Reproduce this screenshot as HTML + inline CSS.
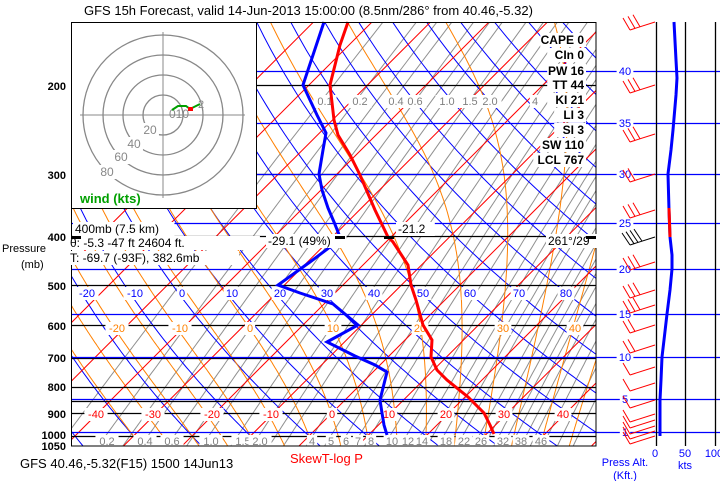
<!DOCTYPE html>
<html><head><meta charset="utf-8">
<style>
html,body{margin:0;padding:0;background:#fff;}
svg{display:block;font-family:"Liberation Sans",sans-serif;}
</style></head>
<body>
<svg id="s" width="720" height="481" viewBox="0 0 720 481" xmlns="http://www.w3.org/2000/svg">
<defs><clipPath id="cp"><rect x="71" y="22" width="525" height="424"/></clipPath></defs>
<rect width="720" height="481" fill="#fff"/>
<g id="grid" clip-path="url(#cp)"></g>
<g id="fg"></g>
</svg>
<script>
(function(){
var NS="http://www.w3.org/2000/svg";
var grid=document.getElementById('grid'), fg=document.getElementById('fg');
function el(p,tag,a,txt){var e=document.createElementNS(NS,tag);for(var k in a)e.setAttribute(k,a[k]);if(txt!=null)e.textContent=txt;p.appendChild(e);return e;}
function Y(p){return 436-217.8*Math.log(1000/p);}
function X(T,y){return 332+5.85*T+(413-y);}
function pl(p,pts,c,w){el(p,'polyline',{points:pts.map(function(q){return q[0].toFixed(1)+','+q[1].toFixed(1)}).join(' '),fill:'none',stroke:c,'stroke-width':w||1});}
var ps=[];for(var p=1050;p>=140;p-=10)ps.push(p);
// mixing ratio lines (gray)
var ws=[0.1,0.2,0.3,0.4,0.6,0.8,1,1.5,2,2.5,3,4,5,6,7,8,10,12,14,16,18,20,22,26,29,32,35,38,42,46,52,60,70];
ws.forEach(function(w){var pts=[];ps.forEach(function(p){var es=w*p/(622+w);var l=Math.log(es/6.112);var T=243.5*l/(17.67-l);var y=Y(p);pts.push([X(T,y),y]);});pl(grid,pts,'#909090',1);});
// dry adiabats blue
for(var th=-60;th<=220;th+=10){var pts=[];ps.forEach(function(p){var T=(th+273.15)*Math.pow(p/1000,0.286)-273.15;var y=Y(p);pts.push([X(T,y),y]);});pl(grid,pts,'#0000ff',1);}
// moist adiabats orange
function es(T){return 6.112*Math.exp(17.67*T/(T+243.5));}
function moist(tw){var out=[];var T=tw+273.15,p=1000;var up=[];var Tk=T;
 for(p=1000;p>=140;p-=5){up.push([p,Tk]);var rs=0.622*es(Tk-273.15)/(p-es(Tk-273.15));var d=(1/p)*(287*Tk+2.5e6*rs)/(1004+2.5e6*2.5e6*rs*0.622/(287*Tk*Tk));Tk-=d*5;}
 var dn=[];Tk=T;for(p=1000;p<=1060;p+=5){dn.push([p,Tk]);var rs=0.622*es(Tk-273.15)/(p-es(Tk-273.15));var d=(1/p)*(287*Tk+2.5e6*rs)/(1004+2.5e6*2.5e6*rs*0.622/(287*Tk*Tk));Tk+=d*5;}
 dn.reverse().concat(up).forEach(function(q){var y=Y(q[0]);out.push([X(q[1]-273.15,y),y]);});return out;}
for(var tw=-30;tw<=45;tw+=5)pl(grid,moist(tw),'#ff8000',1);
// isotherms red
for(var T=-150;T<=60;T+=10){var y1=446,y2=22;el(grid,'line',{x1:X(T,y1),y1:y1,x2:X(T,y2),y2:y2,stroke:'#ff0000','stroke-width':1});}
// pressure lines
[200,300,400,500,600,700,800,850,900,1000].forEach(function(p){var y=Math.round(Y(p))+0.5;el(grid,'line',{x1:71,y1:y,x2:596,y2:y,stroke:'#000','stroke-width':1.3});});
// height lines blue
[[40,71],[35,123],[30,174],[25,223],[20,269],[15,314],[10,357],[5,399],[1,432]].forEach(function(h){el(fg,'line',{x1:71,y1:h[1]+.5,x2:720,y2:h[1]+.5,stroke:'#0000ff','stroke-width':1.3});});
// labels on grid
function tx(p,x,y,s,c,sz,anc,bold,bg){if(bg){var w=s.length*sz*0.58;var x0=anc=='end'?x-w:(anc=='middle'?x-w/2:x);el(p,'rect',{x:x0-2,y:y-sz+1,width:w+4,height:sz+2,fill:'#fff'});}
 return el(p,'text',{x:x,y:y,fill:c,'font-size':sz,'text-anchor':anc||'start','font-weight':bold?'bold':'normal'},s);}
[[-40,96],[-30,153],[-20,212],[-10,271],[0,332],[10,389],[20,446],[30,504],[40,563]].forEach(function(a){tx(fg,a[1],418,String(a[0]),'#ff0000',11,'middle',0,1);});
[[-20,87],[-10,135],[0,182],[10,232],[20,280],[30,327],[40,374],[50,423],[60,470],[70,519],[80,566]].forEach(function(a){tx(fg,a[1],297,String(a[0]),'#0000ff',11,'middle',0,1);});
[[-20,117],[-10,180],[0,250],[10,333],[20,420],[30,503],[40,575]].forEach(function(a){tx(fg,a[1],332,String(a[0]),'#ff8000',11,'middle',0,1);});
[['0.2',107],['0.4',145],['0.6',172],['1.0',211],['1.5',243],['2.0',260],['4',312],['5',331],['6',346],['7',358],['8',371],['10',392],['12',408],['14',422],['18',446],['22',464],['26',481],['32',503],['38',521],['46',541]].forEach(function(a){tx(fg,a[1],445,a[0],'#808080',11,'middle',0,1);});
[['0.1',325],['0.2',360],['0.4',396],['0.6',415],['1.0',447],['1.5',470],['2.0',490],['4',535]].forEach(function(a){tx(fg,a[1],105,a[0],'#808080',11,'middle',0,1);});
// profiles
pl(fg,[[324,22],[313,55],[303,85],[317,115],[326,133],[323,150],[319,174],[322,190],[328,208],[334,222],[340,237],[330,247],[310,262],[278,285],[300,293],[333,304],[358,325],[327,342],[355,356],[375,365],[387,372],[383,388],[380,400],[382,413],[384,425],[387,435]],'#0000ff',3);
pl(fg,[[348,22],[340,45],[330,85],[334,120],[338,135],[350,155],[360,175],[375,210],[388,237],[393,242],[408,265],[411,285],[416,300],[423,325],[432,340],[431,357],[437,370],[447,380],[468,397],[484,413],[490,425],[494,434]],'#ff0000',3);
// hodograph box
el(fg,'rect',{x:71.5,y:22.5,width:185,height:186,fill:'#fff',stroke:'#000','stroke-width':1});
[20,40,60,80].forEach(function(r){el(fg,'circle',{cx:163,cy:115,r:r,fill:'none',stroke:'#888','stroke-width':1.3});});
el(fg,'line',{x1:80,y1:115,x2:245,y2:115,stroke:'#888'});el(fg,'line',{x1:163,y1:32,x2:163,y2:198,stroke:'#888'});
[['20',150,134],['40',134,148],['60',121,161],['80',107,176]].forEach(function(a){tx(fg,a[1],a[2],a[0],'#888',12,'middle',0,1);});
tx(fg,169,118,'010','#888',12,'start');
pl(fg,[[172,110],[178,106],[186,106],[190,109],[200,104]],'#00a000',2);
el(fg,'rect',{x:188,y:107,width:5,height:4,fill:'#f00'});
tx(fg,198,108,'2','#888',11,'start');
tx(fg,80,203,'wind (kts)','#00a000',13,'start',1);
// outer frame
el(fg,'rect',{x:71.5,y:22.5,width:524.5,height:423.5,fill:'none',stroke:'#000','stroke-width':1});
// indices
var idx=[['CAPE 0',44],['CIn 0',59],['PW 16',75],['TT 44',89],['KI 21',104],['LI 3',119],['SI 3',134],['SW 110',149],['LCL 767',164]];
idx.forEach(function(a){tx(fg,584,a[1],a[0],'#000',12,'end',1,1);});
// pressure labels
[['200',90],['300',179],['400',241],['500',290],['600',330],['700',362],['800',391],['900',418],['1000',439],['1050',450]].forEach(function(a){tx(fg,66,a[1],a[0],'#000',11,'end',1);});
tx(fg,2,252,'Pressure','#000',11,'start');tx(fg,21,268,'(mb)','#000',11,'start');
// cursor info
tx(fg,75,233,'400mb (7.5 km)','#000',12,'start',0,1);
tx(fg,70,247,'θ: -5.3  -47 ft   24604 ft.','#000',12,'start',0,1);
tx(fg,70,262,'T: -69.7 (-93F), 382.6mb','#000',12,'start',0,1);
tx(fg,268,245,'-29.1 (49%)','#000',12,'start',0,1);
tx(fg,398,233,'-21.2','#000',12,'start',0,1);
tx(fg,548,245,'261°/29','#000',12,'start',0,1);
[[71,236],[335,236],[384,236],[586,236]].forEach(function(a){el(fg,'rect',{x:a[0],y:a[1],width:10,height:3,fill:'#000'});});
// height labels
[[40,71],[35,123],[30,174],[25,223],[20,269],[15,314],[10,357],[5,399],[1,432]].forEach(function(h){tx(fg,625,h[1]+4,String(h[0]),'#0000ff',11,'middle',0,1);});
// right panel
[656,685,715].forEach(function(x){el(fg,'line',{x1:x+.5,y1:22,x2:x+.5,y2:446,stroke:'#000','stroke-width':1.3});});
pl(fg,[[674,22],[676,60],[677,78],[676,95],[673,130],[671,150],[668,174],[669,210],[670,237],[672,255],[672,269],[670,290],[667,314],[664,340],[662,357],[661,380],[660,400],[660,436]],'#0000ff',3);
pl(fg,[[669,208],[670,237]],'#ff0000',3);
// barbs
var bar=[[22,3],[85,3],[134,3],[174,2],[210,3],[262,3],[290,3],[305,3],[325,2],[345,2],[367,1],[383,1],[400,1],[414,1],[420,1],[426,1],[431,1],[436,1]];
bar.forEach(function(b){var y=b[0];var ex=630,ey=y+8;el(fg,'line',{x1:655,y1:y,x2:ex,y2:ey,stroke:'#f00'});
 for(var i=0;i<b[1];i++){var fx=ex+i*5,fy=ey-i*1.6;el(fg,'line',{x1:fx,y1:fy,x2:fx-7,y2:fy-12,stroke:'#f00'});}});
pl(fg,[[655,237],[630,245]],'#000',1);
[0,1,2,3].forEach(function(i){el(fg,'line',{x1:630+i*4,y1:245-i*1.3,x2:622+i*4,y2:233-i*1.3,stroke:'#000'});});
// text
tx(fg,84,15,'GFS 15h Forecast, valid 14-Jun-2013 15:00:00 (8.5nm/286° from 40.46,-5.32)','#000',13,'start');
tx(fg,20,468,'GFS 40.46,-5.32(F15) 1500 14Jun13','#000',13,'start');
tx(fg,290,463,'SkewT-log P','#ff0000',13,'start');
tx(fg,625,466,'Press Alt.','#0000ff',11,'middle');tx(fg,625,479,'(Kft.)','#0000ff',11,'middle');
tx(fg,655,457,'0','#0000ff',11,'middle');tx(fg,685,457,'50','#0000ff',11,'middle');tx(fg,714,457,'100','#0000ff',11,'middle');
tx(fg,685,469,'kts','#0000ff',11,'middle');
})();
</script>
</body></html>
